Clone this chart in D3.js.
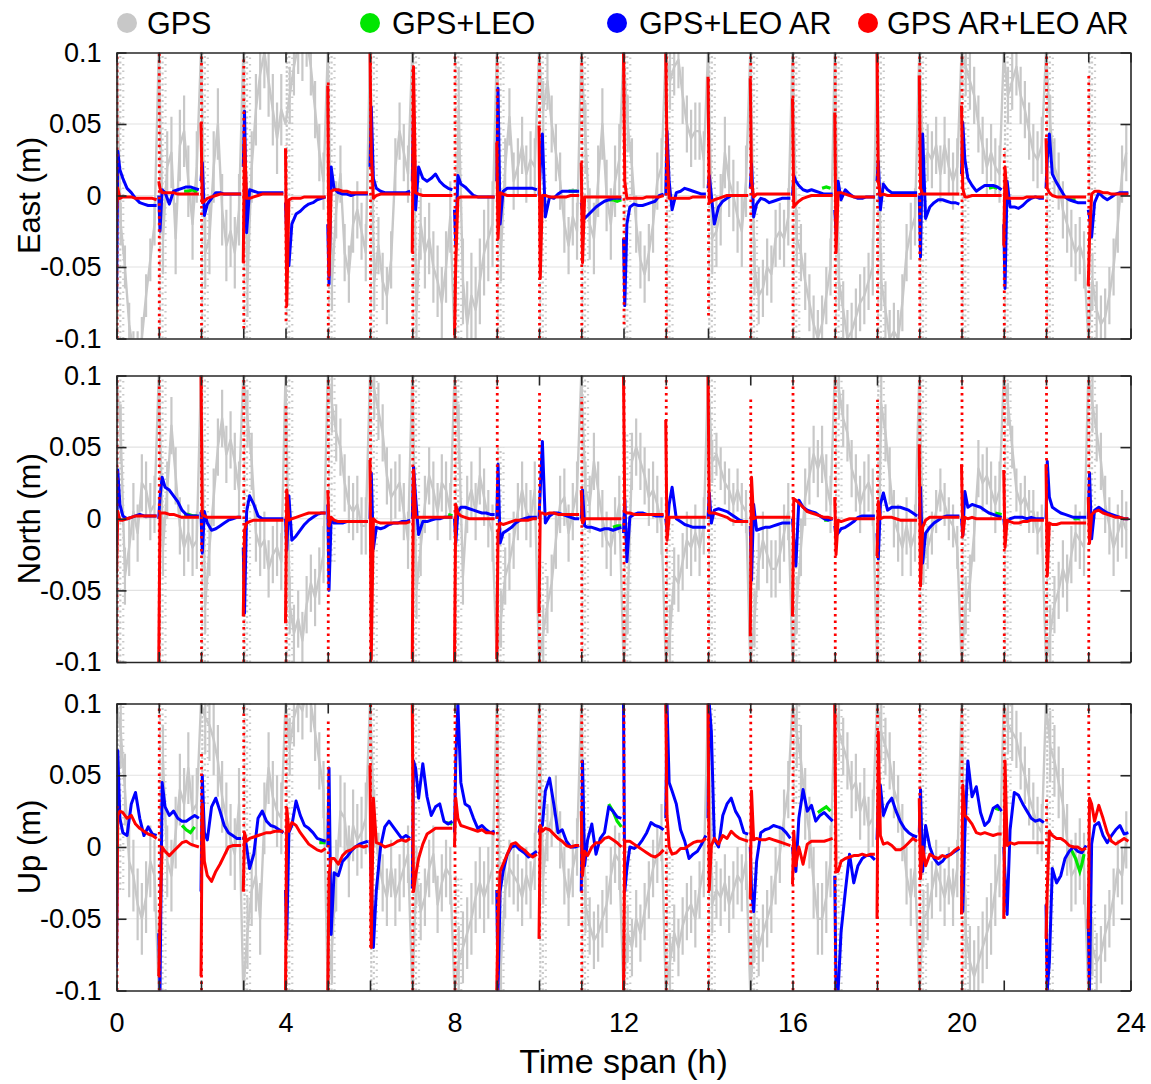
<!DOCTYPE html>
<html><head><meta charset="utf-8">
<script src="https://cdn.jsdelivr.net/npm/d3@7"></script>
<style>
body{margin:0;background:#fff}
svg{display:block}
text{font-family:"Liberation Sans",Arial,Helvetica,sans-serif;fill:#000}
</style>
</head><body>
<svg id="chart" width="1151" height="1084"></svg>
<script>
// ---------------- DATA (values in mm; plotted in m) ----------------
const seriesNames = ["GPS", "GPS+LEO", "GPS+LEO AR", "GPS AR+LEO AR"];
const panelNames = ["East (m)", "North (m)", "Up (m)"];
const yTickValues = [-0.1, -0.05, 0, 0.05, 0.1];
const yTickLabels = ["-0.1", "-0.05", "0", "0.05", "0.1"];
const xTickValues = [0,1,2,3,4,5,6,7,8,9,10,11,12,13,14,15,16,17,18,19,20,21,22,23,24];
const xTickLabels = ["0","","","","4","","","","8","","","","12","","","","16","","","","20","","","","24"];
// sample times within each hourly session (h)
const lineOffsets = [0, 0.03, 0.08, 0.15, 0.25, 0.35, 0.45, 0.55, 0.65, 0.75, 0.85, 0.95];
const grayOffsets = [0, 0.1, 0.2, 0.3, 0.4, 0.5, 0.6, 0.7, 0.8, 0.9];

// ---- East ----
const grayEast = [
100,-20,-50,-90,-110,-110,-100,-70,-45,-20,  100,-30,20,30,-30,35,45,10,-20,20,
100,-40,-30,20,50,-10,-35,-25,-40,-10,  100,-60,20,60,85,100,80,60,40,60,
50,70,90,105,100,110,90,60,30,10,  100,-60,-10,15,-40,-55,-20,-10,-25,-40,
100,-60,-35,-60,-70,-45,20,45,30,15,  100,-80,-20,-40,-30,-50,-60,-75,-50,-15,
-100,60,-60,-90,-70,-80,-60,-40,-30,-20,  100,-40,20,55,10,20,35,15,25,20,
100,60,80,50,30,10,-20,-35,-15,-25,  100,40,-20,-30,10,50,0,-20,10,25,
100,50,20,-20,-45,-55,-40,-20,10,20,  100,80,90,95,70,50,40,45,45,25,
100,-30,-25,-10,30,10,0,-15,-25,10,  100,-50,-70,-65,-50,-55,-30,-25,-30,-15,
100,-30,-40,-60,-75,-90,-100,-90,-70,-50,  100,-60,-80,-100,-95,-85,-75,-70,-60,-50,
100,-60,-80,-100,-95,-100,-75,-40,-25,-15,  100,20,30,25,35,15,35,20,10,20,
100,90,80,70,50,35,20,30,20,15,  100,70,80,90,70,60,45,30,25,35,
100,50,20,10,-10,-20,-30,-40,-35,-45,  -100,-60,-80,-90,-85,-70,-50,-20,15,30
];
// half-width of the GPS scatter band in each hour (mm)
const grayJitterEast = [15,25,25,25,20,20,20,25,30,20,20,25,20,20,25,20,20,20,20,20,20,20,20,20];
const blueEast = [
-77,31,18,12,5,2,-2,-5,-6,-7,-7,-7,   0,-25,4,2,-6,3,4,5,6,6,5,4,
10,23,-14,-6,-2,2,2,1,1,1,1,1,   20,59,-26,4,3,2,2,2,2,2,2,2,
-5,-30,-49,-20,-13,-11,-8,-6,-5,-3,-2,-1,   -20,-62,20,5,2,1,1,0,1,1,1,1,
20,62,12,5,3,2,2,2,2,2,2,3,   10,61,-10,20,12,10,12,15,10,7,5,4,
-10,-35,14,8,6,3,0,-1,-1,-1,-1,-1,   10,75,-20,3,5,5,5,5,5,5,5,4,
0,20,43,-15,-1,-2,1,3,3,3,3,3,   -5,-12,-16,-14,-11,-8,-6,-4,-3,-2,-2,-2,
-30,-77,-20,-8,-6,-7,-7,-6,-5,-4,0,1,   0,45,10,-10,2,3,5,4,3,2,1,1,
5,14,0,-20,-8,-4,-2,0,0,0,0,0,   5,22,-15,-6,-2,-3,-5,-4,-3,-2,-2,-2,
0,14,10,7,4,3,4,3,2,1,1,1,   -10,-25,10,-3,4,1,-1,-2,-2,-1,-1,-1,
10,24,-10,8,4,2,2,2,2,2,2,2,   0,-43,43,-16,-8,-5,-3,-3,-4,-5,-5,-6,
15,51,25,12,7,3,5,7,7,7,6,4,   -20,-65,10,-8,-8,-9,-7,-4,-2,-1,-2,-2,
5,25,43,15,9,4,-1,-3,-4,-5,-5,-5,   -10,-15,-29,-5,2,-1,-3,-1,1,2,2,2
];
const redEast = [
-10,5,-2,-1,-1,-1,-2,-2,-2,-2,-2,-3,   10,5,2,2,2,2,1,1,1,1,1,1,
51,-5,-4,-2,-1,0,1,1,1,1,1,1,   -47,40,-2,-2,-1,0,1,1,1,1,1,1,
33,-77,-3,-2,-2,-2,-1,-1,-1,-1,-1,-1,   77,-56,3,4,4,3,3,2,2,2,2,2,
100,30,-2,0,1,1,1,1,1,1,1,1,   -40,90,2,1,0,0,0,0,0,0,0,0,
-98,-47,-2,-1,-1,-1,-1,-1,-1,-1,-1,-1,   37,-30,2,1,0,0,0,0,0,0,0,0,
49,-58,0,0,-1,-1,-1,-1,-1,0,0,0,   23,-47,-1,-1,-1,-1,-1,-1,-1,-1,-1,-1,
100,10,-2,-2,-2,-2,-2,-1,-1,-1,-1,0,   100,30,-2,-2,-2,-2,-2,-2,-1,-1,-1,-1,
83,-5,-4,-3,-2,-1,0,0,0,0,0,0,   82,10,-1,1,1,1,1,1,1,1,1,1,
68,-8,-6,-4,-2,-1,0,0,0,0,0,0,   58,-40,2,2,1,0,-1,-1,-1,-1,-1,-1,
100,10,0,1,0,0,0,0,0,0,0,0,   84,5,1,1,1,1,1,1,1,1,1,1,
63,5,-1,-1,0,0,0,0,0,0,0,0,   -35,20,-2,-2,-2,-2,-2,-1,-1,-1,-1,-1,
40,5,2,0,-1,-1,-1,-1,-1,-1,-1,-1,   -63,-30,1,3,3,2,2,1,1,1,1,1
];
const greenEast = [[1.6,3],[1.7,3],[1.8,4],[1.9,2],null,[10.7,3],[10.8,3],[10.9,3],null,
[11.65,-3],[11.75,-3],[11.85,-4],[11.95,-3],null,[16.7,5],[16.8,6],[16.9,5],null,
[20.65,5],[20.75,6],[20.85,5],null,[22.5,-2],[22.6,-3],[22.7,-3]];
const redSprayEast = [[-100,100],[-98,100],[-100,100],[-93,96],[-88,35],[-100,79],[-100,100],[-100,91],
[-100,100],[-100,100],[-100,100],[-100,100],[-90,100],[-100,100],[-84,83],[-100,100],[-100,100],[-100,100],
[-100,100],[-100,100],[-100,100],[-100,33],[-100,100],[-100,84]];
const graySprayEast = [[-100,100],[-100,100],[-100,100],[-100,100],[-100,100],[-100,100],[-100,100],[-100,100],
[-100,100],[-100,100],[-100,100],[-100,100],[-100,100],[-100,100],[-100,100],[-100,100],[-100,100],[-100,100],
[-100,100],[-100,100],[-100,100],[-100,100],[-100,100],[-100,100]];

// ---- North ----
const grayNorth = [
100,60,-40,-20,5,-10,25,20,5,10,  100,-20,20,65,30,-5,-20,-10,-20,-15,
100,-60,-20,15,50,70,45,55,40,20,  100,70,40,-10,-20,-15,-35,-25,-20,-30,
100,-60,-80,-70,-85,-60,-45,-55,-40,-25,  100,80,60,50,25,10,5,10,-5,-5,
100,90,75,60,30,15,20,25,5,-15,  100,-50,-20,10,30,20,5,25,20,5,
100,60,-40,10,20,5,30,15,0,-10,  -100,-70,-40,-30,-15,5,20,5,0,20,
-100,-80,-60,-45,-15,10,15,-10,5,20,  100,20,10,40,20,0,-15,-20,-5,10,
-100,-60,40,50,40,30,15,20,10,-5,  -100,-80,-40,-45,-30,-15,-20,-10,-20,-5,
100,40,45,35,25,20,10,20,10,5,  -100,-70,-30,-15,-25,-35,-35,-25,-10,5,
-100,-60,-20,15,30,45,35,45,25,10,  100,90,70,60,35,25,10,20,25,15,
-100,80,60,30,0,-10,-20,-5,-20,-10,  100,-30,-20,-10,5,20,10,0,-5,-20,
-100,-60,-45,-10,35,25,30,20,10,20,  100,80,50,20,10,15,5,5,-10,-5,
-100,-80,-60,-50,-35,-45,-25,-10,-15,-20,  100,80,60,40,10,-5,-20,-10,0,-8
];
const grayJitterNorth = [20,20,20,20,20,20,20,20,20,20,20,20,20,20,15,20,20,20,20,15,20,15,20,20];
const blueNorth = [
-20,34,10,2,0,1,2,3,2,2,2,2,   0,15,29,22,20,16,12,6,3,2,2,2,
5,-24,5,-3,-8,-7,-5,-3,-1,0,1,1,   -20,-66,5,16,10,2,0,0,0,0,0,0,
0,-22,16,-15,-12,-8,-4,-1,1,3,4,4,   10,-50,0,-3,-3,-3,-2,-2,-2,-2,-2,-2,
0,32,-21,-6,-7,-6,-4,-3,-3,-2,-2,-1,   0,36,15,-11,-2,-2,-1,0,0,1,1,1,
0,-17,5,8,8,7,6,5,4,4,3,3,   0,38,-17,-10,-8,-6,-3,-1,0,1,1,1,
0,20,54,-3,2,4,4,3,2,1,0,0,   0,20,-5,-6,-6,-7,-8,-7,-7,-8,-7,-6,
-10,14,-30,1,3,4,4,3,3,2,2,2,   0,-8,10,22,0,-2,-4,-5,-6,-6,-6,-6,
0,18,-3,6,7,6,5,3,1,-1,-2,-2,   -5,-43,10,-8,-7,-6,-6,-5,-4,-3,-3,-3,
0,-15,-33,13,8,6,5,4,2,0,-1,0,   -5,-12,-10,-7,-6,-4,-2,1,2,2,2,2,
-10,-28,10,18,6,8,8,8,7,6,4,2,   0,22,-31,-10,-6,-3,-1,1,2,2,2,2,
0,-12,19,8,10,9,8,6,4,3,2,1,   0,-8,-2,0,1,1,1,0,1,0,0,0,
0,40,15,8,6,4,3,2,1,1,1,1,   0,32,-14,6,8,6,4,3,2,1,0,0
];
const redNorth = [
-38,5,-1,-1,0,1,2,2,2,2,2,2,   -100,4,4,4,3,3,2,1,1,1,1,1,
100,3,2,1,1,1,1,1,1,1,1,1,   -68,-8,-3,-2,-1,-1,-1,-1,-1,-1,-1,-1,
-73,20,-1,0,1,2,3,4,4,4,4,4,   20,-5,1,-1,-2,-2,-2,-2,-2,-2,-2,-2,
41,-98,0,-2,-3,-3,-3,-3,-3,-3,-3,-2,   -98,34,1,1,1,1,1,1,1,1,1,1,
-100,10,4,2,1,0,0,0,0,0,0,0,   -98,-10,-3,-4,-3,-2,-1,-1,-1,-1,0,0,
-66,4,4,3,4,4,3,3,3,3,3,3,   20,-3,0,0,0,0,0,0,0,0,0,0,
100,5,4,4,3,3,3,3,3,3,3,3,   69,-15,1,1,1,1,1,1,1,1,1,1,
100,4,4,4,3,2,1,-1,-2,-2,-2,-2,   -82,29,0,1,1,1,1,1,1,1,1,1,
-68,14,13,11,8,5,4,3,2,1,1,0,   15,-25,-1,-2,-1,0,0,0,0,0,0,0,
-26,12,0,1,1,1,0,-1,-1,-1,-1,-1,   52,-47,-6,-1,1,1,1,1,1,1,1,1,
38,-12,1,0,1,0,0,0,0,0,0,0,   34,-20,-1,-2,-3,-3,-2,-2,-1,-1,-1,-1,
38,-40,-3,-4,-4,-3,-3,-3,-3,-3,-3,-3,   15,-17,3,5,6,4,3,2,1,1,0,0
];
const greenNorth = [[1.6,3],[1.7,3],[1.8,2],[1.9,2],null,[7.85,3],[7.95,2],null,
[11.75,-6],[11.85,-5],[11.95,-5],null,[16.75,-1],[16.85,-1],null,[20.8,4],[20.95,3],null,[22.65,0],[22.8,0]];
const redSprayNorth = [[-100,100],[-100,100],[-100,100],[-100,100],[-100,81],[-100,100],[-100,100],[-100,100],
[-100,100],[-100,100],[-100,90],[-97,85],[-100,100],[-100,100],[-100,100],[-100,85],[-100,100],[-100,100],
[-100,83],[-100,100],[-100,100],[-100,100],[-100,100],[-100,100]];
const graySprayNorth = [[-100,100],[-100,100],[-100,100],[-100,100],[-100,100],[-30,100],[-100,100],[-100,100],
[-100,100],[-100,50],[-100,-30],[-100,100],[-100,60],[-100,0],[-100,100],[-100,-20],[-100,0],[0,100],
[-100,100],[-100,100],[-100,0],[-100,100],[-100,0],[0,100]];

// ---- Up ----
const grayUp = [
100,80,40,-10,-20,-40,-50,-35,-10,-20,  -100,60,-10,-20,10,40,30,55,25,30,
100,90,85,75,60,35,20,5,-5,30,  -100,-60,-30,-20,-50,20,55,35,25,20,
100,70,90,100,95,110,100,80,60,40,  -100,-70,-20,25,20,-10,15,5,10,20,
100,20,-10,-25,-35,-15,-35,-25,-15,-5,  -100,-20,-45,-35,-15,-5,-40,-25,-15,-20,
-100,-80,-70,-60,-50,-35,-25,-35,-25,-15,  100,-80,-30,-15,-20,-25,-35,-20,-30,-10,
100,-20,10,20,30,5,-20,-35,-15,0,  100,-40,-55,-65,-60,-50,-40,-20,-5,-10,
-100,-60,-70,-50,-60,-45,-30,-15,-5,10,  -100,-80,-60,-70,-55,-45,-40,-50,-30,-15,
100,-40,-30,-35,-25,-40,-30,-20,-25,-10,  -100,-60,-70,-60,-50,-40,-20,-5,20,40,
100,80,60,30,10,-25,-50,-50,-35,-10,  100,80,70,60,40,45,25,35,15,20,
100,80,70,60,40,30,10,-20,-35,-15,  -100,-50,-45,-30,-15,-25,-35,-20,-35,-15,
100,-60,-80,-90,-80,-70,-60,-50,-30,-10,  100,85,80,75,60,50,35,25,15,10,
100,70,60,45,30,5,-20,-15,-5,-15,  -100,-70,-80,-75,-60,-50,-35,-15,-20,5
];
const grayJitterUp = [25,25,25,25,20,25,20,20,25,20,20,20,20,20,20,20,25,20,20,20,25,20,25,20];
const blueUp = [
-84,67,20,10,8,30,38,20,8,14,9,8,   -60,-100,45,28,22,25,20,18,18,20,22,20,
-31,50,10,5,28,34,25,15,10,8,6,6,   5,8,0,-15,-5,20,25,18,15,14,12,10,
-30,-64,10,15,32,22,15,13,10,6,5,4,   0,55,-61,-18,-20,-10,-7,-3,0,2,3,4,
5,-20,-70,-30,0,14,18,14,10,6,8,6,   -29,60,55,34,58,35,22,28,30,18,16,18,
10,60,100,45,30,28,20,13,15,12,10,11,   -30,-100,-31,-17,-5,0,1,-2,-4,-7,-5,-3,
10,15,15,39,48,30,10,12,4,0,0,1,   -31,60,-13,5,16,-5,6,10,28,25,21,20,
100,-31,-15,0,-1,1,5,10,17,15,14,12,   20,100,45,39,30,12,4,-8,-5,-3,2,8,
20,100,80,5,0,22,30,34,25,20,10,9,   0,-30,-45,-10,10,12,13,15,14,13,10,6,
0,-10,-17,20,40,25,29,18,22,24,21,18,   -20,-100,-100,-59,-31,-5,-25,-13,-8,-6,-6,-9,
5,30,43,22,30,34,25,18,13,10,8,7,   10,40,-17,15,0,-8,-12,-10,-6,-5,-3,-1,
-20,-45,10,60,35,42,24,15,18,27,29,25,   0,-20,-47,12,38,36,30,25,20,18,19,17,
-40,-100,-80,-15,-25,-20,-8,-3,0,-3,-4,1,   -50,-100,2,15,17,8,3,8,12,15,9,10
];
const redUp = [
-80,22,25,24,20,22,16,13,11,9,8,6,   -90,-50,0,-3,-6,-3,0,3,4,2,1,0,
-90,30,-10,-20,-24,-17,-12,-6,0,1,1,1,   -31,10,4,6,7,8,9,10,10,11,11,11,
-100,27,11,17,15,10,6,2,0,-2,-3,-1,   -100,-20,-8,-8,-12,-6,-3,-2,0,1,0,1,
57,-70,34,3,2,0,1,2,4,5,4,6,   100,-31,-20,-8,2,9,11,13,13,13,13,13,
0,34,20,15,14,13,12,11,12,10,10,9,   -100,-50,-17,-12,-5,2,3,0,-2,-5,-7,-5,
-64,15,11,13,12,9,6,4,1,0,1,1,   25,-20,-3,-6,0,3,3,6,7,5,3,0,
-100,4,4,4,2,0,-2,-4,-6,-7,-5,-2,   100,22,0,-5,-4,-1,-1,1,3,4,4,6,
100,-30,1,6,2,8,6,11,8,6,5,4,   -36,39,5,6,5,5,6,5,4,3,2,1,
-26,11,-13,0,-12,2,4,4,4,4,5,6,   100,-17,-17,-10,-8,-7,-6,-6,-5,-6,-5,-5,
-50,80,8,2,3,1,-2,-2,0,3,6,4,   34,-22,0,-13,-5,-7,-8,-6,-7,-5,-2,0,
-47,43,22,20,16,10,9,10,9,8,9,9,   -50,60,1,3,2,3,3,3,3,3,3,3,
-64,-30,11,8,6,6,4,1,0,0,-2,-1,   -57,34,30,18,29,20,10,4,2,4,6,4
];
const greenUp = [[1.55,15],[1.65,12],[1.75,10],[1.85,14],null,[4.8,3],[4.95,3],null,[7.8,17],[7.95,16],null,
[11.65,30],[11.75,25],[11.85,18],[11.95,14],null,[16.6,24],[16.7,26],[16.8,28],[16.9,25],null,
[20.8,27],[20.9,26],null,[22.6,-2],[22.7,-8],[22.8,-17],[22.85,-12],[22.9,-5]];
const redSprayUp = [[-100,30],[-100,100],[-100,65],[-31,100],[-100,92],[-100,90],[-70,100],[-100,100],
[-100,100],[-100,100],[-64,100],[-100,100],[-100,100],[-100,100],[-100,100],[-82,100],[-100,100],[-100,100],
[-100,100],[-100,100],[-100,100],[-50,100],[-100,34],[-100,100]];
const graySprayUp = [[-30,100],[-100,100],[30,100],[-100,100],[-100,100],[-100,-30],[-100,100],[-100,100],
[-100,-20],[-100,100],[-100,100],[-100,100],[-100,0],[-100,0],[-100,100],[-100,-10],[30,100],[-100,100],
[20,100],[-100,100],[-100,100],[30,100],[-100,100],[-100,-40]];

// ---------------- LAYOUT / STYLE ----------------
const colors = {gray:"#c8c8c8", green:"#00e600", blue:"#0000ff", red:"#ff0000", axis:"#262626", grid:"#e2e2e2"};
const X0 = 116.5, X1 = 1130.5;
const panels = [
  {top:52.5, bottom:338.5, name:panelNames[0], gray:grayEast, jit:grayJitterEast, green:greenEast, blue:blueEast, red:redEast, rs:redSprayEast, gs:graySprayEast},
  {top:375.5, bottom:662, name:panelNames[1], gray:grayNorth, jit:grayJitterNorth, green:greenNorth, blue:blueNorth, red:redNorth, rs:redSprayNorth, gs:graySprayNorth},
  {top:703.5, bottom:990.5, name:panelNames[2], gray:grayUp, jit:grayJitterUp, green:greenUp, blue:blueUp, red:redUp, rs:redSprayUp, gs:graySprayUp}
];

const svg = d3.select("#chart");
const x = d3.scaleLinear().domain([0, 24]).range([X0, X1]);
const hours = xTickValues.slice(0, 24);

panels.forEach((p, pi) => {
  const y = d3.scaleLinear().domain([-0.1, 0.1]).range([p.bottom, p.top]);
  const g = svg.append("g");
  const clipId = "clip" + pi;
  svg.append("clipPath").attr("id", clipId).append("rect")
    .attr("x", X0).attr("y", p.top).attr("width", X1 - X0).attr("height", p.bottom - p.top);

  // grid
  g.append("g").selectAll("line").data(yTickValues.slice(1, 4)).join("line")
    .attr("x1", X0).attr("x2", X1).attr("y1", d => y(d)).attr("y2", d => y(d))
    .attr("stroke", colors.grid).attr("stroke-width", 1.2);

  const plot = g.append("g").attr("clip-path", `url(#${clipId})`);
  const line = d3.line().defined(d => d != null).x(d => x(d[0])).y(d => y(d[1] / 1000));

  // gray convergence columns
  [0.03, 0.09, 0.16].forEach((off, j) => {
    plot.append("g").selectAll("line").data(p.gs).join("line")
      .attr("x1", (d, i) => x(hours[i] + off)).attr("x2", (d, i) => x(hours[i] + off))
      .attr("y1", d => y(d[0] / 1000)).attr("y2", d => y(d[1] / 1000))
      .attr("stroke", colors.gray).attr("stroke-width", 2.2)
      .attr("stroke-dasharray", ["2.5,2", "2,3.5", "1.5,5"][j]);
  });
  // gray: scatter band (vertical strokes) + centre line
  const nG = grayOffsets.length;
  const gpts = p.gray.map((v, i) => [hours[Math.floor(i / nG)] + grayOffsets[i % nG], v, p.jit[Math.floor(i / nG)]]);
  plot.append("g").selectAll("line").data(gpts.filter((d, i) => i % nG !== 0)).join("line")
    .attr("x1", d => x(d[0])).attr("x2", d => x(d[0]))
    .attr("y1", d => y((d[1] - d[2]) / 1000)).attr("y2", d => y((d[1] + d[2]) / 1000))
    .attr("stroke", colors.gray).attr("stroke-width", 2.2);
  plot.append("path").attr("d", line(gpts)).attr("fill", "none")
    .attr("stroke", colors.gray).attr("stroke-width", 2.4).attr("stroke-linejoin", "round");

  // green
  plot.append("path").attr("d", line(p.green)).attr("fill", "none")
    .attr("stroke", colors.green).attr("stroke-width", 3.2);

  const perHour = (arr) => hours.map(h => lineOffsets.map((o, k) => [h + o, arr[h * lineOffsets.length + k]]));
  // blue
  plot.append("g").selectAll("path").data(perHour(p.blue)).join("path")
    .attr("d", line).attr("fill", "none").attr("stroke", colors.blue)
    .attr("stroke-width", 3).attr("stroke-linejoin", "round");
  // red convergence column
  plot.append("g").selectAll("line").data(p.rs).join("line")
    .attr("x1", (d, i) => x(hours[i] + 0.012)).attr("x2", (d, i) => x(hours[i] + 0.012))
    .attr("y1", d => y(d[0] / 1000)).attr("y2", d => y(d[1] / 1000))
    .attr("stroke", colors.red).attr("stroke-width", 2.8).attr("stroke-dasharray", "2.5,4");
  // red
  plot.append("g").selectAll("path").data(perHour(p.red)).join("path")
    .attr("d", line).attr("fill", "none").attr("stroke", colors.red)
    .attr("stroke-width", 3).attr("stroke-linejoin", "round");

  // axes
  const ax = g.append("g");
  const left = ax.append("g").attr("transform", `translate(${X0},0)`)
    .call(d3.axisLeft(y).tickValues(yTickValues).tickFormat((d, i) => yTickLabels[i])
      .tickSizeInner(-10).tickSizeOuter(0).tickPadding(15));
  left.selectAll("text").attr("font-size", 27).attr("font-family", "Liberation Sans, Arial, sans-serif");
  ax.append("g").attr("transform", `translate(${X1},0)`)
    .call(d3.axisRight(y).tickValues(yTickValues).tickFormat("").tickSizeInner(-10).tickSizeOuter(0));
  ax.append("g").attr("transform", `translate(0,${p.top})`)
    .call(d3.axisTop(x).tickValues(xTickValues).tickFormat("").tickSizeInner(-10).tickSizeOuter(0));
  const bottom = ax.append("g").attr("transform", `translate(0,${p.bottom})`)
    .call(d3.axisBottom(x).tickValues(xTickValues)
      .tickFormat((d, i) => pi === panels.length - 1 ? xTickLabels[i] : "")
      .tickSizeInner(-10).tickSizeOuter(0).tickPadding(22));
  bottom.selectAll("text").attr("font-size", 27).attr("font-family", "Liberation Sans, Arial, sans-serif");
  ax.selectAll(".domain").attr("stroke", colors.axis).attr("stroke-width", 1.6);
  ax.selectAll(".tick line").attr("stroke", colors.axis).attr("stroke-width", 1.6);
  ax.selectAll(".tick text").attr("fill", "#000");

  // y title
  svg.append("text").attr("transform", `translate(40,${(p.top + p.bottom) / 2}) rotate(-90)`)
    .attr("text-anchor", "middle").attr("font-size", 31).text(p.name);
});

// x title
svg.append("text").attr("x", (X0 + X1) / 2).attr("y", 1073).attr("text-anchor", "middle")
  .attr("font-size", 34).text("Time span (h)");

// legend
const legendItems = [
  {name: seriesNames[0], color: colors.gray, cx: 127, tx: 147},
  {name: seriesNames[1], color: colors.green, cx: 370, tx: 392},
  {name: seriesNames[2], color: colors.blue, cx: 617, tx: 639},
  {name: seriesNames[3], color: colors.red, cx: 868, tx: 887}
];
const lg = svg.append("g");
lg.selectAll("circle").data(legendItems).join("circle")
  .attr("cx", d => d.cx).attr("cy", 23).attr("r", 10).attr("fill", d => d.color);
lg.selectAll("text").data(legendItems).join("text")
  .attr("x", d => d.tx).attr("y", 34).attr("font-size", 30.5).text(d => d.name);
</script>
</body></html>
